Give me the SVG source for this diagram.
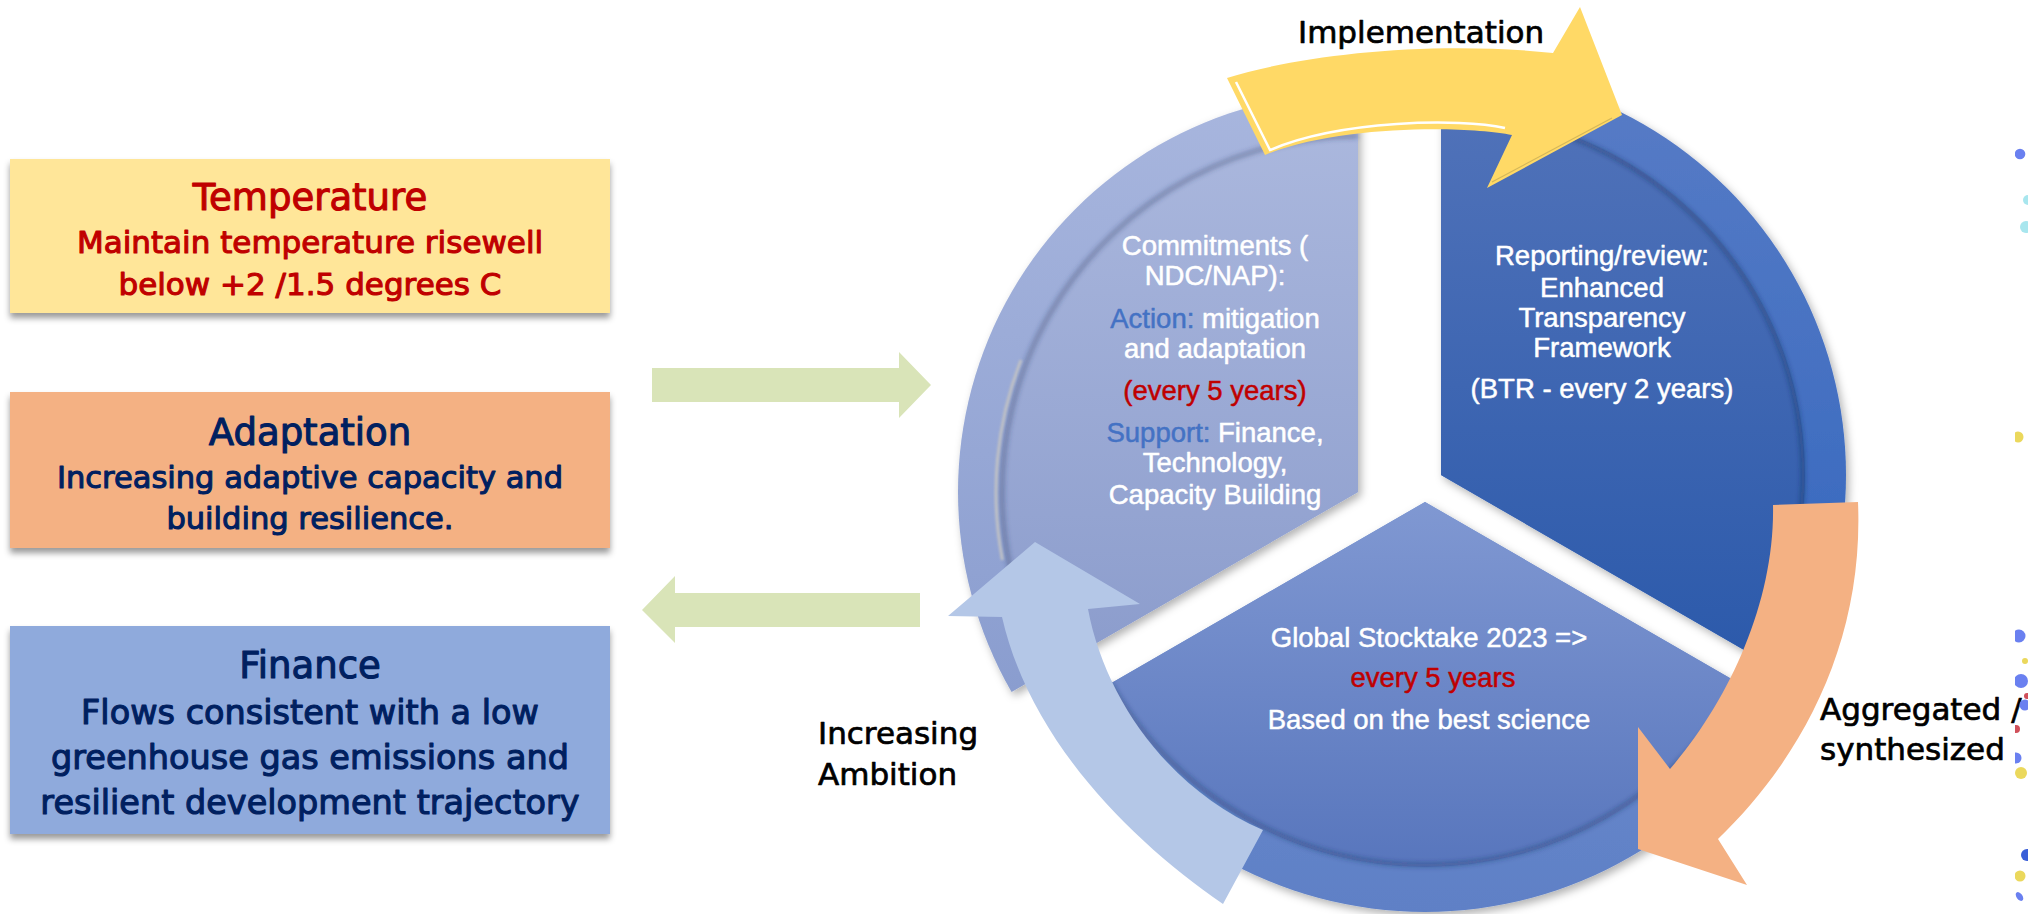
<svg xmlns="http://www.w3.org/2000/svg" width="2028" height="914" viewBox="0 0 2028 914">
<style>
.bt{font-family:"DejaVu Sans","Liberation Sans",sans-serif;text-anchor:middle;stroke-width:1.1px;stroke-linejoin:round}
.wt{font-family:"Liberation Sans","DejaVu Sans",sans-serif;font-size:27.5px;fill:#FFFFFF;stroke:#FFFFFF;stroke-width:0.5px;stroke-linejoin:round;text-anchor:middle}
.lb{font-family:"DejaVu Sans","Liberation Sans",sans-serif;font-size:31px;fill:#000000;stroke:#000000;stroke-width:0.7px;stroke-linejoin:round}
.red{fill:#C00000;stroke:#C00000}
.blu{fill:#4472C4;stroke:#4472C4}
.navy{fill:#002060;stroke:#002060}
</style>
<defs>
<filter id="boxsh" x="-5%" y="-10%" width="110%" height="130%">
<feDropShadow dx="0" dy="5" stdDeviation="3" flood-color="#000" flood-opacity="0.4"/>
</filter>
<filter id="wsh" x="-10%" y="-10%" width="120%" height="120%">
<feDropShadow dx="3" dy="4" stdDeviation="4" flood-color="#000" flood-opacity="0.3"/>
</filter>
<filter id="blur2" x="-10%" y="-10%" width="120%" height="120%">
<feGaussianBlur stdDeviation="2.5"/>
</filter>
<filter id="blur1" x="-10%" y="-10%" width="120%" height="120%">
<feGaussianBlur stdDeviation="1"/>
</filter>
<linearGradient id="gLb" gradientUnits="userSpaceOnUse" x1="0" y1="92" x2="0" y2="692">
<stop offset="0" stop-color="#A8B6DE"/><stop offset="1" stop-color="#8A9DCF"/>
</linearGradient>
<linearGradient id="gLi" gradientUnits="userSpaceOnUse" x1="0" y1="134" x2="0" y2="671">
<stop offset="0" stop-color="#AAB7DD"/><stop offset="1" stop-color="#8B9CCC"/>
</linearGradient>
<linearGradient id="gRb" gradientUnits="userSpaceOnUse" x1="0" y1="70" x2="0" y2="678">
<stop offset="0" stop-color="#587CC6"/><stop offset="1" stop-color="#3366BE"/>
</linearGradient>
<linearGradient id="gRi" gradientUnits="userSpaceOnUse" x1="0" y1="111" x2="0" y2="657">
<stop offset="0" stop-color="#5072B9"/><stop offset="1" stop-color="#2C5AAB"/>
</linearGradient>
<linearGradient id="gBb" gradientUnits="userSpaceOnUse" x1="0" y1="502" x2="0" y2="912">
<stop offset="0" stop-color="#7090D0"/><stop offset="1" stop-color="#5F80C6"/>
</linearGradient>
<linearGradient id="gBi" gradientUnits="userSpaceOnUse" x1="0" y1="502" x2="0" y2="867">
<stop offset="0" stop-color="#8098D2"/><stop offset="1" stop-color="#5876BD"/>
</linearGradient>
<clipPath id="edge"><rect x="2015" y="0" width="13" height="914"/></clipPath>
</defs>

<rect x="0" y="0" width="2028" height="914" fill="#FFFFFF"/>

<g id="box-temperature">
<rect x="10" y="159" width="600" height="154" fill="#FFE699" filter="url(#boxsh)"/>
<text class="bt red" x="310" y="210" font-size="37">Temperature</text>
<text class="bt red" x="310" y="253" font-size="31">Maintain temperature risewell</text>
<text class="bt red" x="310" y="295" font-size="31">below +2 /1.5 degrees C</text>
</g>

<g id="box-adaptation">
<rect x="10" y="392" width="600" height="156" fill="#F4B183" filter="url(#boxsh)"/>
<text class="bt navy" x="310" y="445" font-size="37">Adaptation</text>
<text class="bt navy" x="310" y="488" font-size="30.5">Increasing adaptive capacity and</text>
<text class="bt navy" x="310" y="529" font-size="30.5">building resilience.</text>
</g>

<g id="box-finance">
<rect x="10" y="626" width="600" height="208" fill="#8FAADC" filter="url(#boxsh)"/>
<text class="bt navy" x="310" y="678" font-size="37">Finance</text>
<text class="bt navy" x="310" y="724" font-size="33.5">Flows consistent with a low</text>
<text class="bt navy" x="310" y="769" font-size="33.5">greenhouse gas emissions and</text>
<text class="bt navy" x="310" y="814" font-size="33.5">resilient development trajectory</text>
</g>

<g id="wedge-commitments">
<path d="M1358 492 L1358 92 A400 400 0 0 0 1011.59 692 Z" fill="url(#gLb)" filter="url(#wsh)"/>
<path d="M1358 492 L1358 134 A358 358 0 0 0 1047.96 671 Z" fill="url(#gLi)"/>
<path d="M1358 136 A356 356 0 0 0 1049.7 670" fill="none" stroke="#2E3B66" stroke-opacity="0.45" stroke-width="4" filter="url(#blur2)"/>
<path d="M1021 360 A362 362 0 0 0 1002.4 560" fill="none" stroke="#C4C4C4" stroke-opacity="0.9" stroke-width="3" filter="url(#blur1)"/>
<text class="wt" x="1215" y="255">Commitments (</text>
<text class="wt" x="1215" y="285">NDC/NAP):</text>
<text class="wt" x="1215" y="328"><tspan class="blu">Action:</tspan> mitigation</text>
<text class="wt" x="1215" y="358">and adaptation</text>
<text class="wt red" x="1215" y="400">(every 5 years)</text>
<text class="wt" x="1215" y="442"><tspan class="blu">Support:</tspan> Finance,</text>
<text class="wt" x="1215" y="472">Technology,</text>
<text class="wt" x="1215" y="504">Capacity Building</text>
</g>

<g id="wedge-reporting">
<path d="M1441 475 L1441 70 A405 405 0 0 1 1791.74 677.5 Z" fill="url(#gRb)" filter="url(#wsh)"/>
<path d="M1441 475 L1441 111 A364 364 0 0 1 1756.23 657 Z" fill="url(#gRi)"/>
<path d="M1441 113 A362 362 0 0 1 1754.5 656" fill="none" stroke="#1A2A55" stroke-opacity="0.45" stroke-width="4" filter="url(#blur2)"/>
<text class="wt" x="1602" y="265">Reporting/review:</text>
<text class="wt" x="1602" y="297">Enhanced</text>
<text class="wt" x="1602" y="327">Transparency</text>
<text class="wt" x="1602" y="357">Framework</text>
<text class="wt" x="1602" y="398">(BTR - every 2 years)</text>
</g>

<g id="wedge-stocktake">
<path d="M1425 502 L1069.93 707 A410 410 0 0 0 1780.07 707 Z" fill="url(#gBb)" filter="url(#wsh)"/>
<path d="M1425 502 L1108.9 684.5 A365 365 0 0 0 1741.1 684.5 Z" fill="url(#gBi)"/>
<path d="M1110.6 683.5 A363 363 0 0 0 1739.4 683.5" fill="none" stroke="#1F2D5A" stroke-opacity="0.4" stroke-width="4" filter="url(#blur2)"/>
<text class="wt" x="1429" y="647">Global Stocktake 2023 =&gt;</text>
<text class="wt red" x="1433" y="687">every 5 years</text>
<text class="wt" x="1429" y="729">Based on the best science</text>
</g>

<g id="connectors">
<polygon id="arrow-in" points="652,368 899,368 899,352 931,385 899,418 899,402 652,402" fill="#D9E4B8"/>
<polygon id="arrow-out" points="920,593 675,593 675,576 642,610 675,643 675,627 920,627" fill="#D9E4B8"/>
<g id="arrow-implementation">
<path d="M1227 78 C1300 55 1430 40 1553 53 L1580 7 L1622 115 L1487 188 L1512 135 C1470 126 1340 124 1265 155 Z" fill="#FFD966"/>
<path d="M1236 82 L1270 150 C1340 120 1460 118 1505 128" fill="none" stroke="#FFFFFF" stroke-width="2.5"/>
<path d="M1492 182 L1612 118" fill="none" stroke="#B8A050" stroke-opacity="0.6" stroke-width="1.2"/>
</g>
<path id="arrow-ambition" d="M1223 904 C1130 840 1030 740 1002 617 L948 616 L1035 542 L1140 604 L1088 609 C1105 700 1170 790 1263 830 Z" fill="#B4C7E7"/>
<path id="arrow-aggregated" d="M1773 505 L1858 502 C1864 645 1800 760 1718 839 L1747 885 L1638 849 L1638 727 L1670 769 C1730 700 1775 600 1773 505 Z" fill="#F4B183"/>
</g>

<g id="label-implementation">
<text class="lb" x="1298" y="43" font-size="32.5">Implementation</text>
</g>
<g id="label-ambition">
<text class="lb" x="818" y="744">Increasing</text>
<text class="lb" x="818" y="785">Ambition</text>
</g>
<g id="label-aggregated">
<text class="lb" x="1820" y="720">Aggregated /</text>
<text class="lb" x="1820" y="760">synthesized</text>
</g>

<g id="edge-dots" clip-path="url(#edge)">
<circle cx="2020" cy="154" r="5.3" fill="#6A80F0"/>
<circle cx="2028" cy="200" r="5" fill="#A8E6EE"/>
<circle cx="2026" cy="227" r="6" fill="#A8E6EE"/>
<circle cx="2018" cy="437" r="5.5" fill="#EBD85C"/>
<circle cx="2019" cy="636" r="6.5" fill="#6A80F0"/>
<circle cx="2025" cy="661" r="3" fill="#EBD85C"/>
<circle cx="2021" cy="681" r="7" fill="#6A80F0"/>
<circle cx="2027" cy="696" r="3" fill="#D0505A"/>
<circle cx="2025" cy="705" r="5.5" fill="#6A80F0"/>
<circle cx="2016" cy="729" r="4" fill="#D0505A"/>
<circle cx="2016" cy="758" r="5.5" fill="#6A80F0"/>
<circle cx="2021" cy="773" r="6" fill="#EBD85C"/>
<circle cx="2027" cy="855" r="6" fill="#3A5FD8"/>
<circle cx="2020" cy="876" r="5.5" fill="#EBD85C"/>
<ellipse cx="2019.5" cy="896.5" rx="3" ry="5" transform="rotate(-35 2019.5 896.5)" fill="#6A80F0"/>
</g>
</svg>
